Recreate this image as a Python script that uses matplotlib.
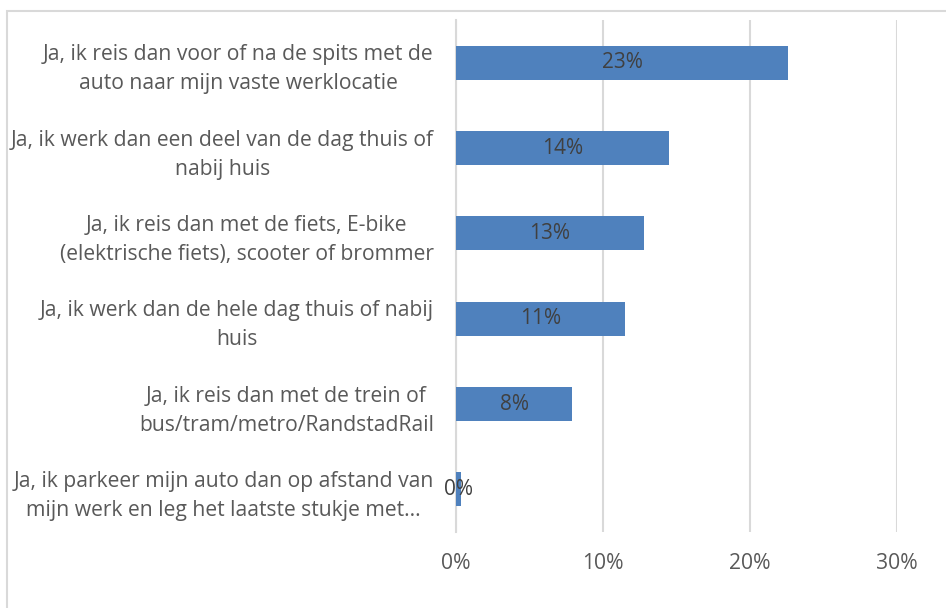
import numpy as np
import matplotlib.pyplot as plt
from matplotlib.patches import Rectangle
from matplotlib.transforms import ScaledTranslation

# antwoorden (van boven naar beneden) en aandelen
categories = [
    'Ja, ik reis dan voor of na de spits met de\nauto naar mijn vaste werklocatie',
    'Ja, ik werk dan een deel van de dag thuis of\nnabij huis',
    'Ja, ik reis dan met de fiets, E-bike\n(elektrische fiets), scooter of brommer',
    'Ja, ik werk dan de hele dag thuis of nabij\nhuis',
    'Ja, ik reis dan met de trein of\nbus/tram/metro/RandstadRail',
    'Ja, ik parkeer mijn auto dan op afstand van\nmijn werk en leg het laatste stukje met...',
]
values = [0.226, 0.145, 0.128, 0.115, 0.079, 0.0034]
value_labels = ['23%', '14%', '13%', '11%', '8%', '0%']
xticks = [0, 0.1, 0.2, 0.3]
xtick_labels = ['0%', '10%', '20%', '30%']

plt.rcParams['font.family'] = ['Open Sans', 'DejaVu Sans']

fig = plt.figure(figsize=(9.46, 6.08), dpi=100)
ax = fig.add_axes([456 / 946, 1 - 532 / 608, (896.7 - 456) / 946, 512 / 608])

y = np.arange(len(categories))
bars = ax.barh(y, values, height=0.4, color='#4F81BD', zorder=3)
for b, lab in zip(bars, value_labels):
    ax.text(b.get_x() + b.get_width() / 2, b.get_y() + b.get_height() / 2, lab,
            ha='center', va='center', fontsize=15, color='#404040', zorder=4)

ax.set_ylim(len(categories) - 0.5, -0.5)
ax.set_xlim(0, 0.3)
ax.set_yticks(y)
ax.set_yticklabels(categories, fontsize=15.2, color='#595959', multialignment='center',
                   linespacing=1.5)
# labels iets omhoog zodat ze op de balk gecentreerd staan
shift = ScaledTranslation(0, 3 / 72, fig.dpi_scale_trans)
for t in ax.get_yticklabels():
    t.set_transform(t.get_transform() + shift)
ax.set_xticks(xticks)
ax.set_xticklabels(xtick_labels, fontsize=15.2, color='#595959')
ax.tick_params(axis='both', length=0)
ax.tick_params(axis='y', pad=16)
ax.tick_params(axis='x', pad=15)
ax.grid(axis='x', color='#D9D9D9', linewidth=1.5, zorder=0)
for s in ['top', 'right', 'bottom']:
    ax.spines[s].set_visible(False)
ax.spines['left'].set_color('#D9D9D9')
ax.spines['left'].set_linewidth(1.5)

# kader om de grafiek
fig.patches.append(Rectangle((7 / 946, -0.02), 1.05, 1 - 11 / 608 + 0.02,
                             transform=fig.transFigure, fill=False,
                             edgecolor='#D9D9D9', linewidth=1.5))

fig.savefig('out.png', dpi=100)
